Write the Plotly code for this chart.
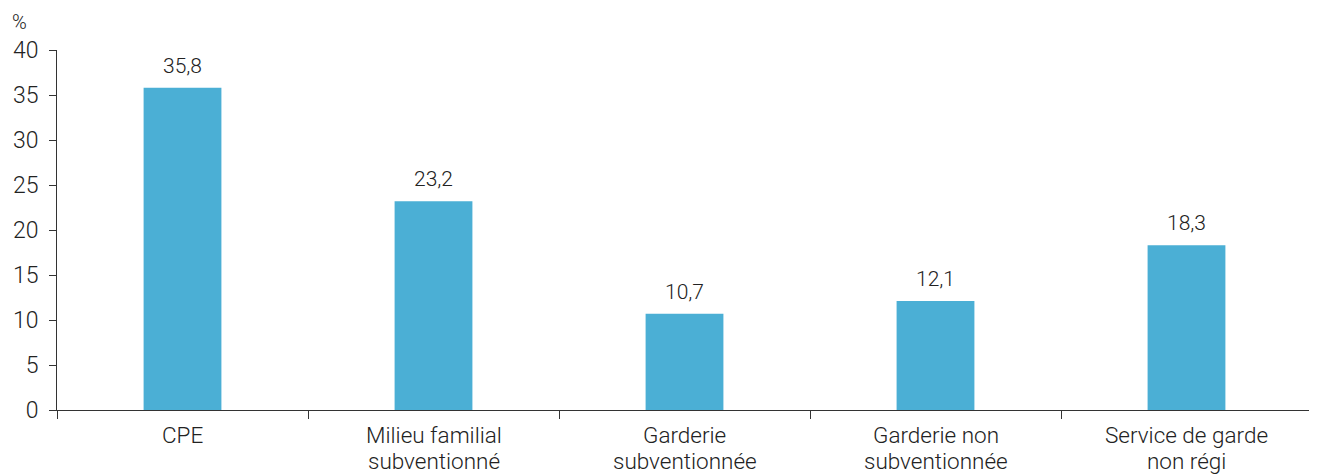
import plotly.graph_objects as go

categories = ["CPE", "Milieu familial subventionné", "Garderie subventionnée",
              "Garderie non subventionnée", "Service de garde non régi"]
label_line1 = ["CPE", "Milieu familial", "Garderie", "Garderie non", "Service de garde"]
label_line2 = ["", "subventionné", "subventionnée", "subventionnée", "non régi"]
values = [35.8, 23.2, 10.7, 12.1, 18.3]
value_labels = ["35,8", "23,2", "10,7", "12,1", "18,3"]

bar_color = "#4BAFD5"
text_color = "#222222"
font_main = "Roboto"
light = 300

fig = go.Figure()
fig.add_trace(go.Bar(
    x=categories, y=values,
    marker=dict(color=bar_color, line=dict(width=0)),
    hoverinfo="skip",
))

for c, v, t in zip(categories, values, value_labels):
    fig.add_annotation(x=c, y=v, text=t, showarrow=False, yanchor="bottom", yshift=8,
                       font=dict(family=font_main, size=21, color=text_color, weight=light))

for c, l1, l2 in zip(categories, label_line1, label_line2):
    fig.add_annotation(x=c, y=0, text=l1, showarrow=False, yanchor="top", yshift=-11,
                       borderpad=0,
                       font=dict(family=font_main, size=22.5, color=text_color, weight=light))
    if l2:
        fig.add_annotation(x=c, y=0, text=l2, showarrow=False, yanchor="top", yshift=-37,
                           borderpad=0,
                           font=dict(family=font_main, size=22.5, color=text_color, weight=light))

fig.add_annotation(x=0, y=1, xref="paper", yref="paper", xshift=-46, yshift=15,
                   text="%", showarrow=False, xanchor="left", yanchor="bottom",
                   borderpad=0,
                   font=dict(family=font_main, size=20, color=text_color, weight=light))

fig.update_layout(
    width=1309, height=467,
    margin=dict(l=49, r=5, t=42, b=65),
    plot_bgcolor="white", paper_bgcolor="white",
    bargap=0.69, showlegend=False,
    font=dict(family=font_main, size=22, color=text_color, weight=light),
)
fig.update_xaxes(
    type="category", range=[-0.5, 4.5],
    showline=True, linecolor="#333333", linewidth=1,
    ticks="outside", tickson="boundaries", ticklen=8, tickcolor="#333333",
    showgrid=False, showticklabels=False,
)
fig.update_yaxes(
    range=[0, 40], dtick=5,
    showline=True, linecolor="#333333", linewidth=1,
    ticks="outside", ticklen=7, tickcolor="#333333",
    showgrid=False, zeroline=False, ticklabelstandoff=6,
    tickfont=dict(family=font_main, size=23, color=text_color, weight=light),
)

fig.write_html("out.html")
